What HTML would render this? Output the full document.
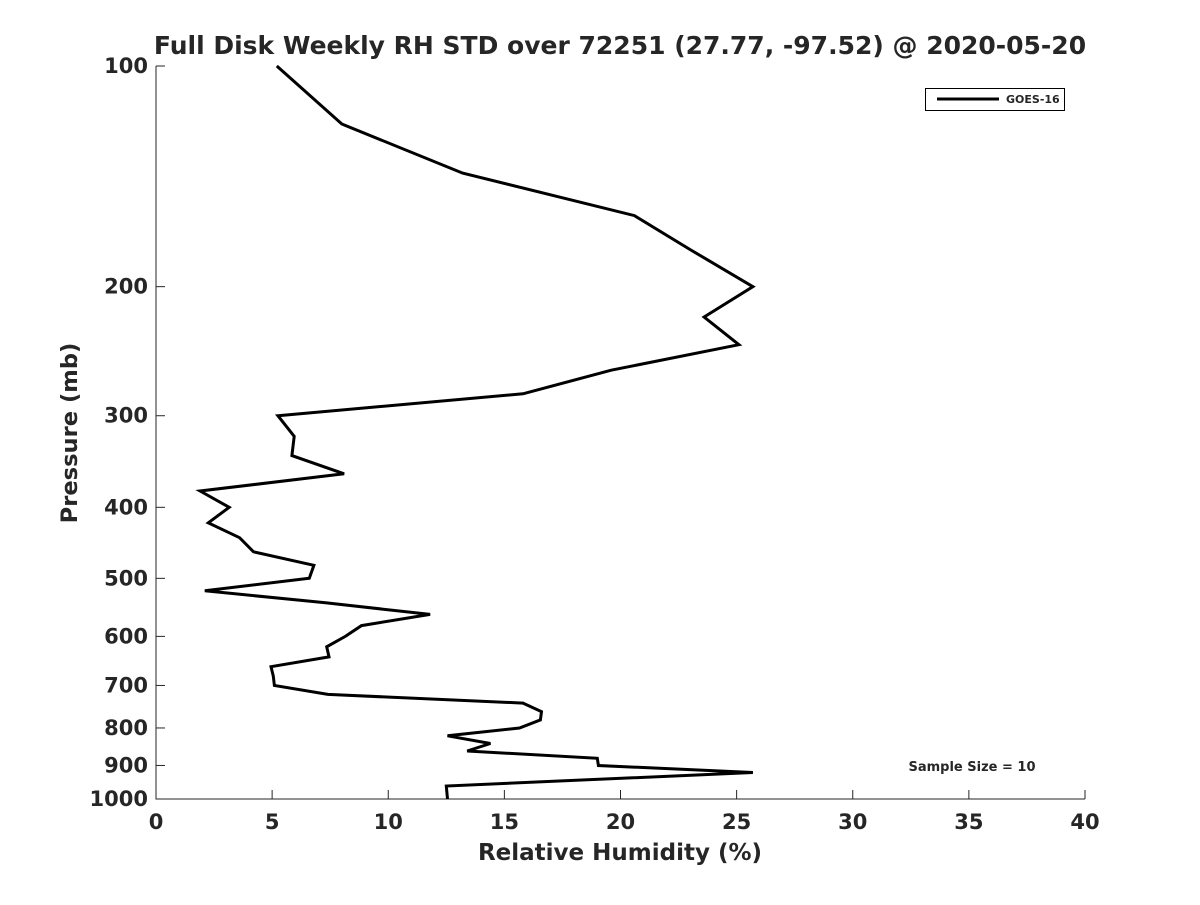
<!DOCTYPE html>
<html><head><meta charset="utf-8"><style>
body{margin:0;background:#fff}
svg text{font-family:"DejaVu Sans","Liberation Sans",sans-serif;font-weight:bold;fill:#262626}
</style></head><body>
<svg id="c" width="1200" height="900" xmlns="http://www.w3.org/2000/svg">
<rect width="1200" height="900" fill="#fff"/>
<text x="620" y="54" font-size="25" text-anchor="middle" fill="#000">Full Disk Weekly RH STD over 72251 (27.77, -97.52) @ 2020-05-20</text>
<g id="axes"></g>
<path id="line" fill="none" stroke="#000" stroke-width="3" stroke-linejoin="miter"/>
<g>
<rect x="925.5" y="88.5" width="139" height="22" fill="#fff" stroke="#000" stroke-width="1"/>
<line x1="937" y1="99" x2="999" y2="99" stroke="#000" stroke-width="3"/>
<text x="1006" y="103" font-size="11" fill="#000">GOES-16</text>
</g>
<text x="972" y="771" font-size="13" text-anchor="middle" fill="#000">Sample Size = 10</text>
<text x="620" y="860" font-size="23" text-anchor="middle">Relative Humidity (%)</text>
<text transform="translate(77,433) rotate(-90)" font-size="22.6" text-anchor="middle">Pressure (mb)</text>
</svg>
<script>
const pressures=[100,120,140,160,178,200,220,240,260,280,300,320,340,360,380,400,420,440,460,480,500,520,540,560,580,600,620,640,660,680,700,720,740,760,780,800,820,840,860,880,900,920,960,1000];
const rhStd=[5.2,8.0,13.2,20.6,23.0,25.7,23.6,25.1,19.6,15.8,5.25,5.95,5.85,8.1,1.9,3.15,2.25,3.6,4.2,6.8,6.6,2.1,7.3,11.8,8.85,8.15,7.35,7.45,4.95,5.05,5.1,7.4,15.8,16.6,16.55,15.65,12.55,14.4,13.4,19.0,19.05,25.7,12.5,12.55];
const xTicks=[0,5,10,15,20,25,30,35,40];
const yTicks=[100,200,300,400,500,600,700,800,900,1000];
const X0=156,X1=1085,Y0=66,Y1=799;
const xs=v=>X0+(v-0)/40*(X1-X0);
const ys=p=>Y0+Math.log10(p/100)*(Y1-Y0);
const NS="http://www.w3.org/2000/svg";
const ax=document.getElementById('axes');
function mk(t,a){const e=document.createElementNS(NS,t);for(const k in a)e.setAttribute(k,a[k]);ax.appendChild(e);return e;}
let e=mk('line',{x1:X0,y1:Y0,x2:X0,y2:Y1+0.5,stroke:'#262626','stroke-width':1});


e=mk('line',{x1:X0,y1:Y1,x2:X1,y2:Y1,stroke:'#262626','stroke-width':1});


xTicks.forEach(v=>{const x=xs(v);
mk('line',{x1:x,y1:Y1,x2:x,y2:Y1-9,stroke:'#262626'});
const t=mk('text',{x:x,y:Y1+30,'font-size':21,'text-anchor':'middle'});t.textContent=v;

});
yTicks.forEach(p=>{const y=ys(p);
mk('line',{x1:X0,y1:y,x2:X0+9,y2:y,stroke:'#262626'});
const t=mk('text',{x:X0-8,y:y+7,'font-size':21,'text-anchor':'end'});t.textContent=p;

});
document.getElementById('line').setAttribute('d',pressures.map((p,i)=>(i?'L':'M')+xs(rhStd[i]).toFixed(1)+','+ys(p).toFixed(1)).join(''));
</script>
</body></html>
